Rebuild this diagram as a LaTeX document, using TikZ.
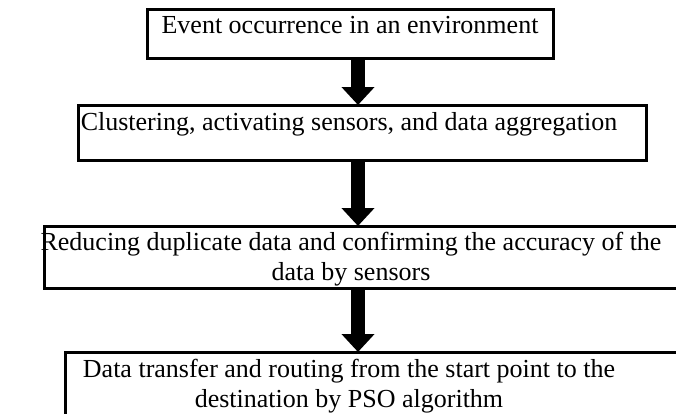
\documentclass[tikz,border=0pt]{standalone}
\usepackage{fontspec}
\setmainfont{Liberation Serif}
\usetikzlibrary{arrows.meta}
\begin{document}
\begin{tikzpicture}[x=1pt,y=1pt,
  flowbox/.style={draw=black, line width=3pt, inner sep=0pt, outer sep=0pt, anchor=north west},
  lbl/.style={font=\fontsize{26}{30}\selectfont, inner sep=0pt, align=center, anchor=base},
  bigarrow/.style={line width=14pt, -{Triangle[width=32pt,length=18pt]}}
]
\useasboundingbox (0,0) rectangle (676,-413);
\clip (0,0) rectangle (676,-413);
% boxes
\node[flowbox, minimum width=406pt, minimum height=49pt] (b1) at (147,-9) {};
\node[flowbox, minimum width=568pt, minimum height=55pt] (b2) at (78,-105) {};
\node[flowbox, minimum width=660pt, minimum height=62pt] (b3) at (44,-226) {};
\node[flowbox, minimum width=640pt, minimum height=100pt] (b4) at (65,-352) {};
% texts (base anchor = baseline of last line)
\node[lbl] (t1) at (350,-33) {Event occurrence in an environment};
\node[lbl] (t2) at (349,-130) {Clustering, activating sensors, and data aggregation};
\node[lbl] (t3) at (351,-280) {Reducing duplicate data and confirming the accuracy of the\\data by sensors};
\node[lbl] (t4) at (349,-407) {Data transfer and routing from the start point to the\\destination by PSO algorithm};
% arrow axis
\coordinate (ax) at (358,0);
\draw[bigarrow] (ax |- b1.south) -- (ax |- b2.north);
\draw[bigarrow] (ax |- b2.south) -- (ax |- b3.north);
\draw[bigarrow] (ax |- b3.south) -- (ax |- b4.north);
\end{tikzpicture}
\end{document}
